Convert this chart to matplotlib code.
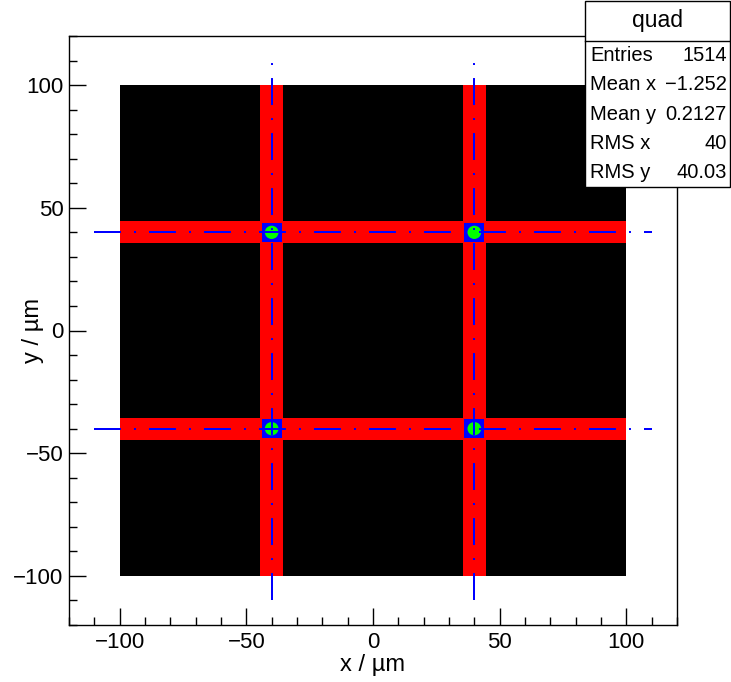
import matplotlib

matplotlib.use("Agg")
import matplotlib.pyplot as plt
from matplotlib.patches import Circle, Rectangle
from matplotlib.ticker import MultipleLocator

# quadrant map: uniform cells, channel bands, spots at the crossings
area_x = [-100, 100]
area_y = [-100, 100]
channel_pos = [-40, 40]
channel_half = 4.5
crossing_half = 4.0
spot_radius = 2.7
guide_range = [-110, 110]

stat_title = "quad"
stat_labels = ["Entries", "Mean x", "Mean y", "RMS x", "RMS y"]
stat_values = ["1514", "\u22121.252", "0.2127", "40", "40.03"]

plt.rcParams["font.family"] = ["Liberation Sans", "DejaVu Sans"]
plt.rcParams["lines.scale_dashes"] = False

W, H = 731, 682
fig = plt.figure(figsize=(W / 100, H / 100), dpi=100)
ax = fig.add_axes([69 / W, 57 / H, 608 / W, 589 / H])

ax.add_patch(Rectangle((area_x[0], area_y[0]), area_x[1] - area_x[0],
                       area_y[1] - area_y[0], color="black", lw=0, zorder=1))
for c in channel_pos:
    ax.add_patch(Rectangle((c - channel_half, area_y[0]), 2 * channel_half,
                           area_y[1] - area_y[0], color="#ff0000", lw=0, zorder=2))
    ax.add_patch(Rectangle((area_x[0], c - channel_half), area_x[1] - area_x[0],
                           2 * channel_half, color="#ff0000", lw=0, zorder=2))
for cx in channel_pos:
    for cy in channel_pos:
        ax.add_patch(Rectangle((cx - crossing_half, cy - crossing_half),
                               2 * crossing_half, 2 * crossing_half,
                               color="#0000ff", lw=0, zorder=3))
        ax.add_patch(Circle((cx, cy), spot_radius, color="#00ff00", lw=0, zorder=4))

dash = (0, (19.4, 9.4, 1.4, 9.4))
for c in channel_pos:
    ax.plot([c, c], guide_range, color="#0000ff", lw=1.44, linestyle=dash, zorder=5)
    ax.plot(guide_range, [c, c], color="#0000ff", lw=1.44, linestyle=dash, zorder=5)

ax.set_xlim(-120, 120)
ax.set_ylim(-120, 120)
for a in (ax.xaxis, ax.yaxis):
    a.set_major_locator(MultipleLocator(50))
    a.set_minor_locator(MultipleLocator(10))
ax.tick_params(which="both", direction="in", top=False, right=False,
               labelsize=16, width=1.0, color="black")
ax.tick_params(which="major", length=12.2)
ax.tick_params(which="minor", length=5.8)
ax.tick_params(axis="x", pad=5)
ax.tick_params(axis="y", pad=4)
for s in ax.spines.values():
    s.set_linewidth(1.0)

ax.set_xlabel("x / \u00b5m", fontsize=17, labelpad=0.5)
ax.set_ylabel("y / \u00b5m", fontsize=17, va="center")
ax.yaxis.set_label_coords((33 - 69) / 608, 0.5)

# stats box in figure pixels
bx0, bx1, by_top, by_head, by_bot = 585, 730, 1, 41, 187
fig.patches.append(Rectangle((bx0 / W, 1 - by_bot / H), (bx1 - bx0) / W,
                             (by_bot - by_top) / H, transform=fig.transFigure,
                             facecolor="white", edgecolor="black", lw=1.0, zorder=10))
fig.lines.append(plt.Line2D([bx0 / W, bx1 / W], [1 - by_head / H] * 2,
                            transform=fig.transFigure, color="black", lw=1.0, zorder=11))
fig.text((bx0 + bx1) / 2 / W, 1 - (by_top + by_head) / 2 / H, stat_title,
         ha="center", va="center", fontsize=16.5, zorder=12)
row_h = (by_bot - by_head) / len(stat_labels)
for i, (lab, val) in enumerate(zip(stat_labels, stat_values)):
    yc = 1 - (by_head + row_h * (i + 0.5)) / H
    fig.text(590 / W, yc, lab, ha="left", va="center", fontsize=14.5, zorder=12)
    fig.text(727 / W, yc, val, ha="right", va="center", fontsize=14.5, zorder=12)

fig.savefig("out.png", dpi=100)
